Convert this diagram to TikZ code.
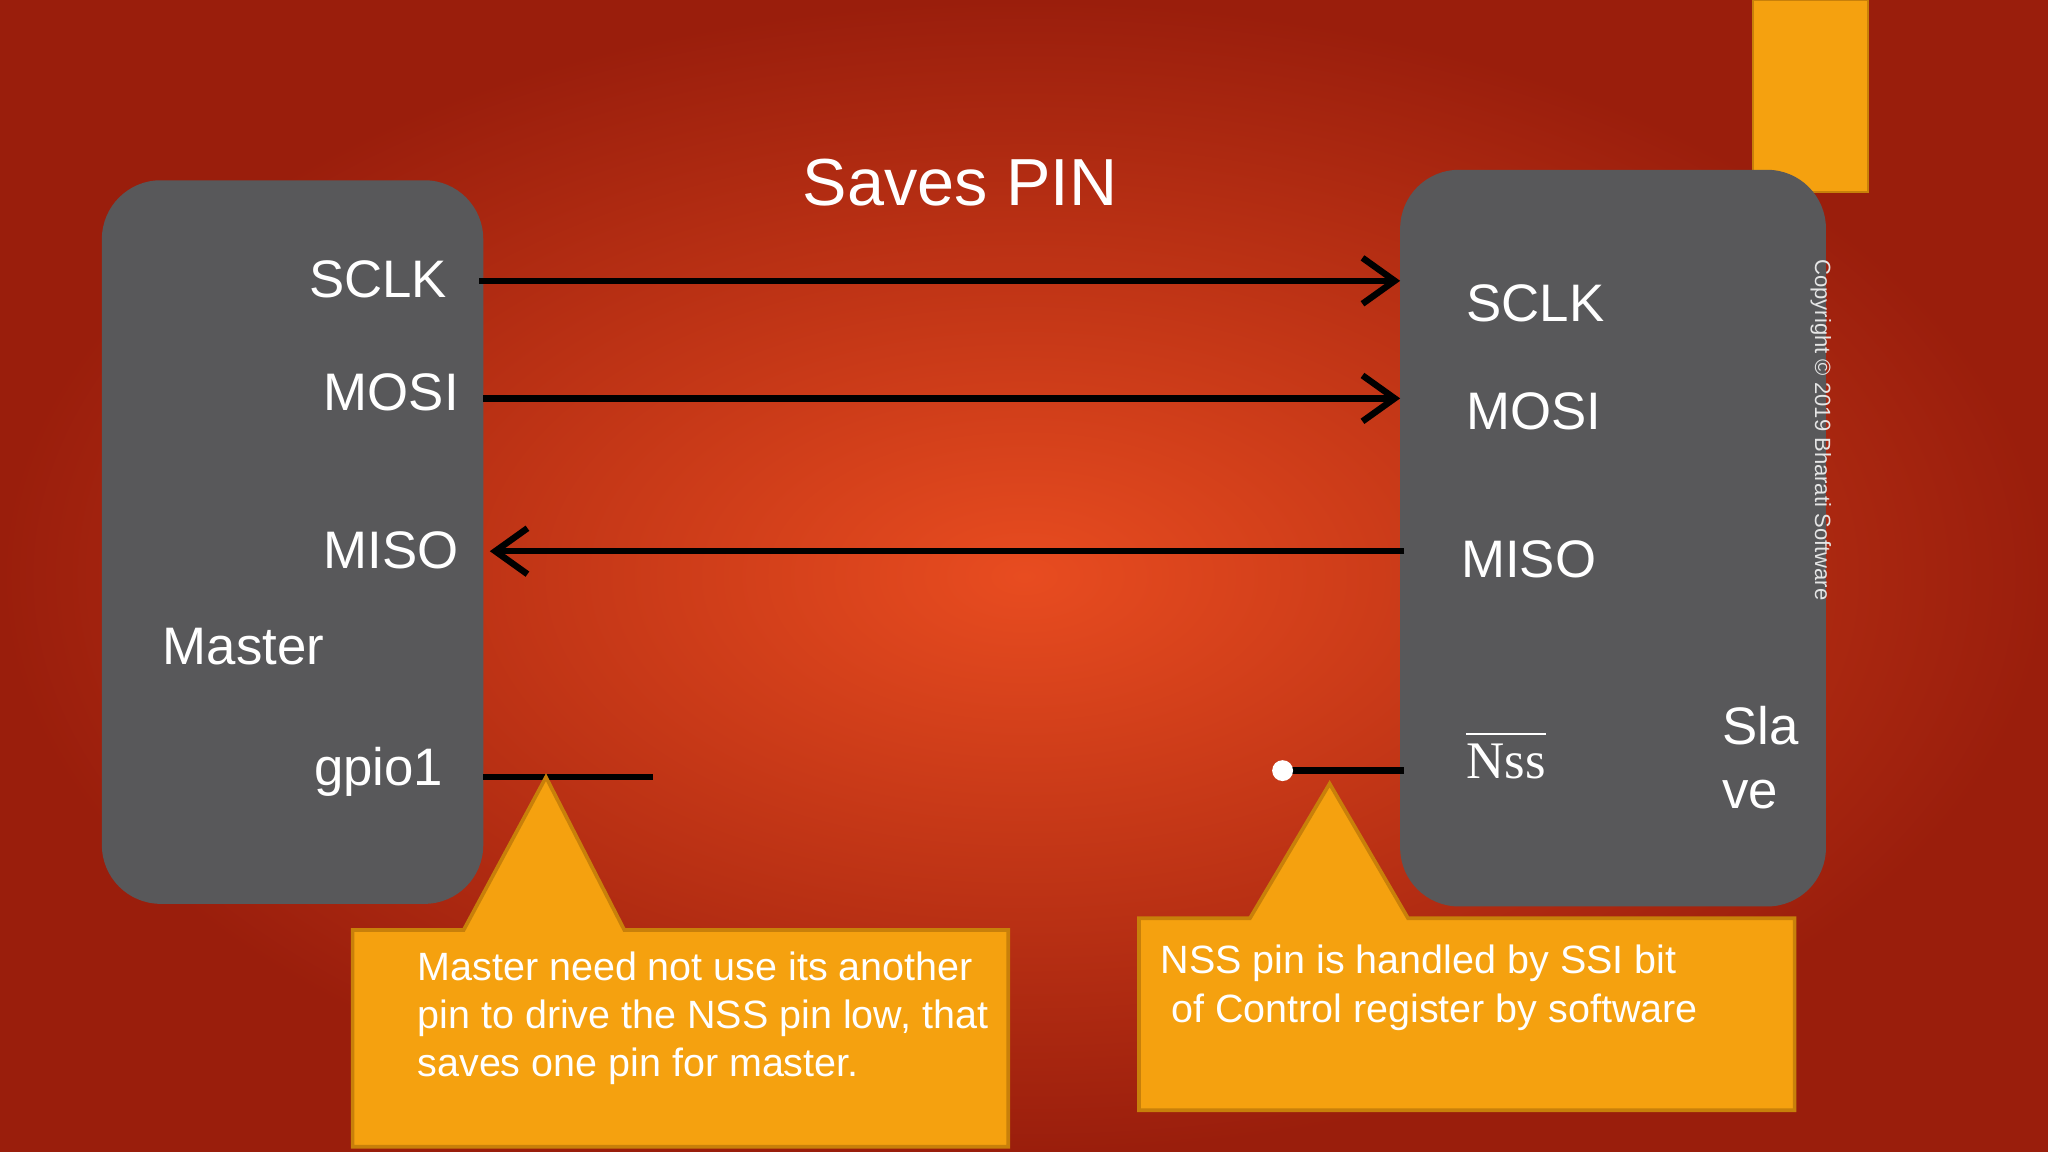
\documentclass[tikz,border=0pt]{standalone}
\usepackage{fontspec}
\setmainfont{Liberation Sans}
\newfontfamily\serifx{Liberation Serif}
\usetikzlibrary{arrows.meta}
\definecolor{boxgray}{HTML}{58585A}
\definecolor{callout}{HTML}{F5A10F}
\definecolor{calledge}{HTML}{C8800A}
\definecolor{bgin}{HTML}{E84C20}
\definecolor{bgout}{HTML}{9A1E0C}
\begin{document}
\begin{tikzpicture}[x=0.1mm,y=-0.1mm,
  chip/.style={fill=boxgray,rounded corners=4.5mm},
  lbl/.style={text=white,font=\fontsize{11.5pt}{13pt}\selectfont,inner sep=0pt},
  wire/.style={line width=1.4pt,black},
  tip/.style={-{Straight Barb[length=7pt,width=10pt,line width=1.4pt]}},
  ctext/.style={text=white,font=\fontsize{8.6pt}{10.5pt}\selectfont,align=left,inner sep=0pt},
  callbox/.style={fill=callout,draw=calledge,line width=0.8pt}]
\useasboundingbox (0,0) rectangle (1568,882);
\shade[inner color=bgin,outer color=bgout] (0,0) rectangle (1568,882);
\fill[callout,draw=calledge] (1342,0) rectangle (1430,147);
\node[text=white,font=\fontsize{14.5pt}{16pt}\selectfont] (title) at (735,140) {Saves PIN};
\fill[chip] (78,138) rectangle (370,692);
\fill[chip] (1072,130) rectangle (1398,694);
\node[lbl,anchor=east] (msclk) at (343,214) {SCLK};
\node[lbl,anchor=east] (mmosi) at (352,300) {MOSI};
\node[lbl,anchor=east] (mmiso) at (352,421) {MISO};
\node[lbl,anchor=west] (master) at (124,495) {Master};
\node[lbl,anchor=east] (gpio) at (340,591) {gpio1};
\node[lbl,anchor=west] (ssclk) at (1122,232) {SCLK};
\node[lbl,anchor=west] (smosi) at (1122,315) {MOSI};
\node[lbl,anchor=west] (smiso) at (1118,428) {MISO};
\node[lbl,anchor=west,font=\serifx\fontsize{11.5pt}{13pt}\selectfont] (nss) at (1122,578) {$\overline{\hbox{Nss}\vphantom{N}}$};
\node[lbl,anchor=west,align=left,font=\fontsize{11.5pt}{14pt}\selectfont] (slave) at (1318,580) {Sla\\ve};
\node[rotate=-90,anchor=west,text=white!80!gray,font=\fontsize{4.8pt}{5pt}\selectfont,inner sep=0pt] (copy) at (1394,198) {Copyright © 2019 Bharati Software};
\coordinate (a1) at (367,215); \coordinate (b1) at (1072,215);
\coordinate (a2) at (370,305); \coordinate (b2) at (1072,305);
\coordinate (a3) at (375,422); \coordinate (b3) at (1075,422);
\draw[wire,tip] (a1) -- (b1);
\draw[wire,tip] (a2) -- (b2);
\draw[wire,tip] (b3) -- (a3);
\coordinate (g1) at (370,595); \coordinate (g2) at (500,595);
\draw[wire] (g1) -- (g2);
\coordinate (n1) at (982,590); \coordinate (n2) at (1075,590);
\draw[wire] (n1) -- (n2);
\fill[white] (n1) circle (8);
\draw[callbox] (270,712) -- (355,712) -- (418,595) -- (478,712) -- (772,712) -- (772,878) -- (270,878) -- cycle;
\draw[callbox] (872,703) -- (957,703) -- (1018,600) -- (1078,703) -- (1374,703) -- (1374,850) -- (872,850) -- cycle;
\node[ctext,anchor=north west] (t1) at (319,728) {Master need not use its another\\pin to drive the NSS pin low, that\\saves one pin for master.};
\node[ctext,anchor=north west] (t2) at (888,723) {NSS pin is handled by SSI bit\\\hspace*{0.8mm}of Control register by software};
\end{tikzpicture}
\end{document}
